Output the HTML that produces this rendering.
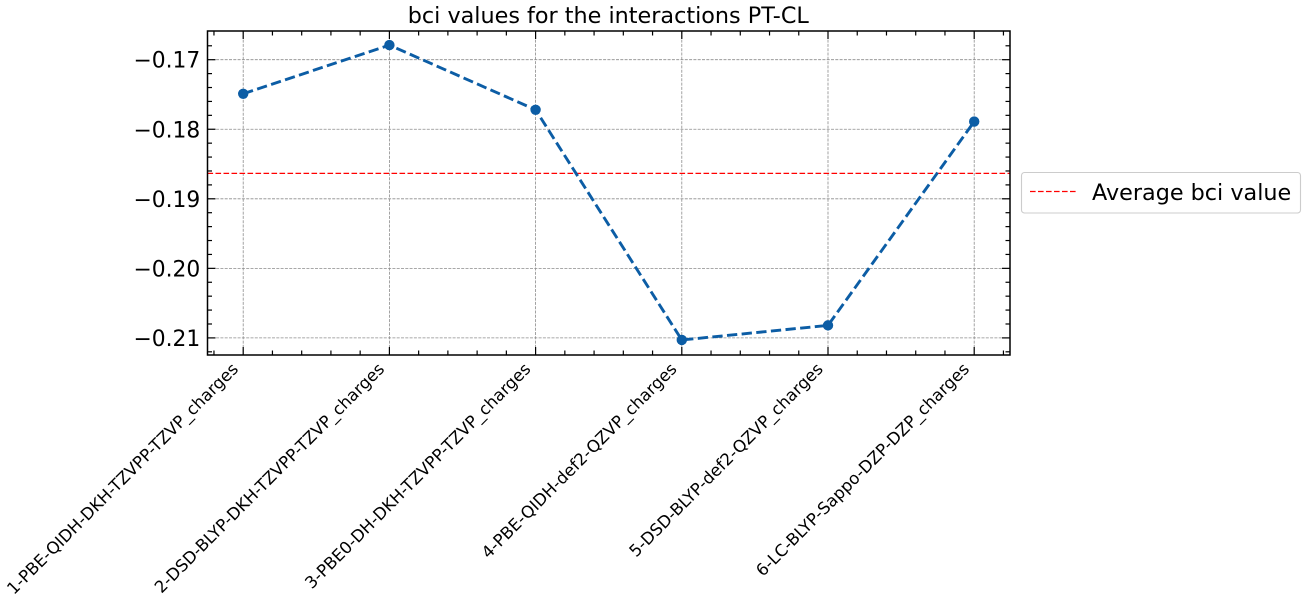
<!DOCTYPE html>
<html>
<head>
<meta charset="utf-8">
<title>bci values for the interactions PT-CL</title>
<style>
html,body{margin:0;padding:0;background:#fff;width:1305px;height:603px;overflow:hidden}
svg{display:block}
text{font-family:"DejaVu Sans","Liberation Sans",sans-serif;fill:#000}
</style>
</head>
<body>
<svg id="chart" xmlns="http://www.w3.org/2000/svg" width="1305" height="603" viewBox="0 0 1305 603"></svg>
<script>
const categories = [
  "1-PBE-QIDH-DKH-TZVPP-TZVP_charges",
  "2-DSD-BLYP-DKH-TZVPP-TZVP_charges",
  "3-PBE0-DH-DKH-TZVPP-TZVP_charges",
  "4-PBE-QIDH-def2-QZVP_charges",
  "5-DSD-BLYP-def2-QZVP_charges",
  "6-LC-BLYP-Sappo-DZP-DZP_charges"
];
const bciValues = [-0.1749, -0.1679, -0.1772, -0.2103, -0.2082, -0.1789];
const averageValue = -0.18635;
const yTickValues = [-0.17, -0.18, -0.19, -0.20, -0.21];
const yTickLabels = ["\u22120.17", "\u22120.18", "\u22120.19", "\u22120.20", "\u22120.21"];
const titleText = "bci values for the interactions PT-CL";
const legendText = "Average bci value";

const NS = "http://www.w3.org/2000/svg";
const svg = document.getElementById("chart");
const L = 207.5, R = 1010, T = 31, B = 355;
const xPos = i => 243.2 + i * 146.2;
const yPos = v => 59.7 + (v + 0.17) / -0.01 * 69.55;

function add(tag, attrs, parent) {
  const el = document.createElementNS(NS, tag);
  for (const k in attrs) el.setAttribute(k, attrs[k]);
  (parent || svg).appendChild(el);
  return el;
}
function group(name) {
  const g = document.createElementNS(NS, "g");
  
  
  svg.appendChild(g);
  return g;
}

/* grid */
const grid = group('grid-lines');
categories.forEach((c, i) => {
  const l = add("line", {x1: xPos(i), x2: xPos(i), y1: T, y2: B, stroke: "#8c8c8c", "stroke-width": 0.8, "stroke-dasharray": "3 1.3"}, grid);
  
  
});
yTickValues.forEach(v => {
  const l = add("line", {x1: L, x2: R, y1: yPos(v), y2: yPos(v), stroke: "#8c8c8c", "stroke-width": 0.8, "stroke-dasharray": "3 1.3"}, grid);
  
  
});

/* average line */
const avg = add("line", {x1: L, x2: R, y1: yPos(averageValue), y2: yPos(averageValue), stroke: "#ff0000", "stroke-width": 1.25, "stroke-dasharray": "5.6 2.4"});



/* series */
const pts = bciValues.map((v, i) => xPos(i) + "," + yPos(v)).join(" ");
const series = add("polyline", {points: pts, fill: "none", stroke: "#0c5da5", "stroke-width": 2.9, "stroke-dasharray": "10.3 4.4"});


bciValues.forEach((v, i) => {
  const p = add("circle", {cx: xPos(i), cy: yPos(v), r: 5.2, fill: "#0c5da5"});
  
  
});

/* ticks */
const ticks = group('axis-ticks');
const tickStroke = {stroke: "#000", "stroke-width": 1.2};
for (let i = -1; i <= 6; i++) {
  for (let m = 0; m < 5; m++) {
    const f = i + m / 5, x = xPos(f);
    if (x < L + 1 || x > R - 1) continue;
    const len = m === 0 ? 8 : 4.5;
    const a = add("line", Object.assign({x1: x, x2: x, y1: B, y2: B - len}, tickStroke), ticks);
    
    
    const b = add("line", Object.assign({x1: x, x2: x, y1: T, y2: T + len}, tickStroke), ticks);
    
    
  }
}
for (let k = -1; k < yTickValues.length; k++) {
  const base = -0.17 - k * 0.01;
  for (let m = 0; m < 5; m++) {
    const y = yPos(base - m * 0.002);
    if (y < T + 1 || y > B - 1) continue;
    const len = m === 0 ? 8 : 4.5;
    const a = add("line", Object.assign({x1: L, x2: L + len, y1: y, y2: y}, tickStroke), ticks);
    
    
    const b = add("line", Object.assign({x1: R, x2: R - len, y1: y, y2: y}, tickStroke), ticks);
    
    
  }
}

/* frame */
const frame = add("rect", {x: L, y: T, width: R - L, height: B - T, fill: "none", stroke: "#000", "stroke-width": 1.5});



/* y labels */
yTickValues.forEach((v, i) => {
  const t = add("text", {x: 200.3, y: yPos(v) + 8, "text-anchor": "end", "font-size": 21.8});
  t.textContent = yTickLabels[i];
  
  
});

/* x labels */
categories.forEach((c, i) => {
  const ax = xPos(i) - 4, ay = 370;
  const t = add("text", {x: ax, y: ay, "text-anchor": "end", "font-size": 16.6, transform: "rotate(-45 " + ax + " " + ay + ")"});
  t.textContent = c;
  
  
});

/* title */
const title = add("text", {x: 608.3, y: 23, "text-anchor": "middle", "font-size": 22.3});
title.textContent = titleText;



/* legend */
const legend = group('legend');
const box = add("rect", {x: 1021.5, y: 172.5, width: 279, height: 40.5, rx: 3, ry: 3, fill: "#fff", stroke: "#cccccc", "stroke-width": 1.1}, legend);


const sw = add("line", {x1: 1030, x2: 1076, y1: 191.5, y2: 191.5, stroke: "#ff0000", "stroke-width": 1.25, "stroke-dasharray": "5.6 2.4"}, legend);


const lt = add("text", {x: 1092, y: 200, "font-size": 22.3}, legend);
lt.textContent = legendText;


</script>
</body>
</html>
